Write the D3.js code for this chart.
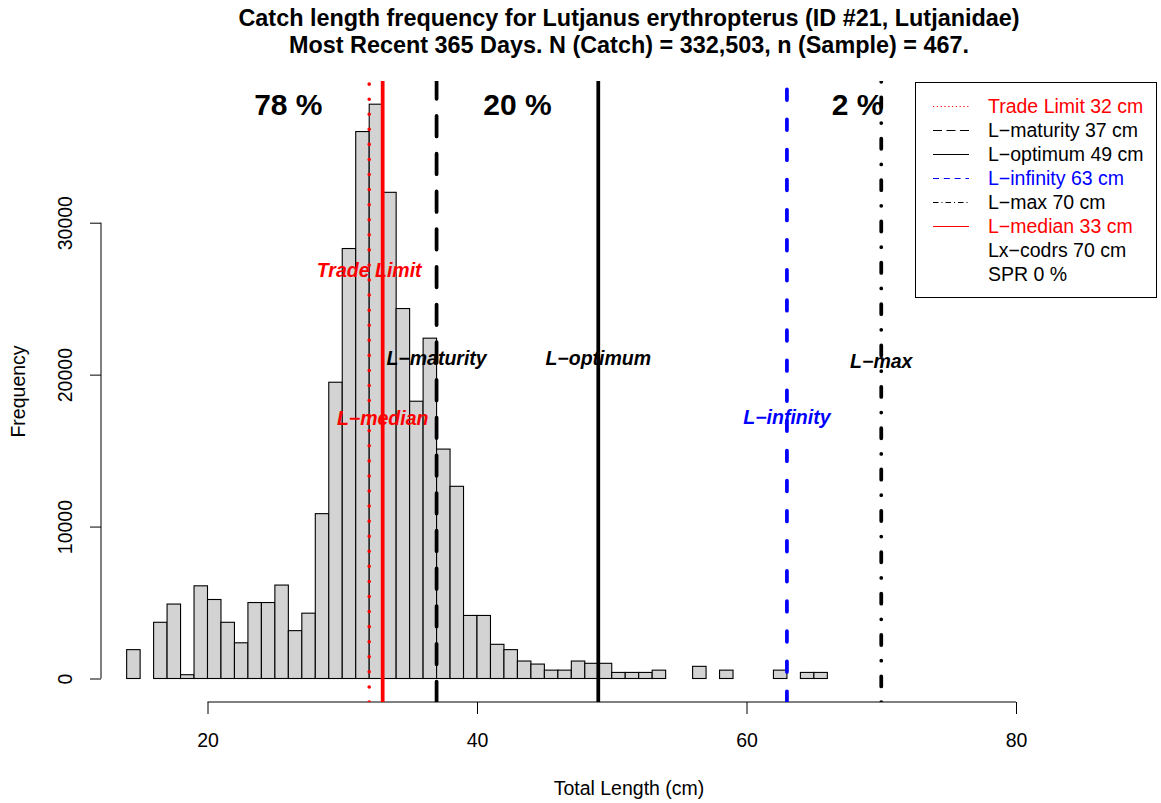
<!DOCTYPE html>
<html>
<head>
<meta charset="utf-8">
<script src="https://cdn.jsdelivr.net/npm/d3@7"></script>
<style>
  html, body { margin: 0; padding: 0; background: #fff; }
  svg text { font-family: "Liberation Sans", Arial, Helvetica, sans-serif; }
</style>
</head>
<body>
<svg id="chart" width="1161" height="803"></svg>
<script>
// ---------------- DATA ----------------
const binStarts = [14,15,16,17,18,19,20,21,22,23,24,25,26,27,28,29,30,31,32,33,34,35,36,37,38,39,40,41,42,43,44,45,
                   46,47,48,49,50,51,52,53,54,55,56,57,58,59,60,61,62,63,64,65,66,67,68,69,70,71,72,73,74,75];
const binWidth = 1;
const frequencies = [1900,0,3700,4900,250,6100,5200,3700,2350,5000,5000,6150,3150,4300,10850,19500,
                     28300,36000,37800,32000,24350,18250,22400,15100,12650,4150,4150,2250,1900,1150,950,550,
                     550,1150,1000,1000,400,400,400,550,0,0,800,0,550,0,0,0,550,0,400,400,
                     0,0,0,0,0,0,0,0,0,0];

const xTicks = [20, 40, 60, 80];
const yTicks = [0, 10000, 20000, 30000];

const refNames  = ["Trade Limit", "L\u2212maturity", "L\u2212optimum", "L\u2212infinity", "L\u2212max", "L\u2212median"];
const refValues = [32, 37, 49, 63, 70, 33];
const refLabelY = [26900, 21100, 21100, 17200, 20900, 17150];

const pctLabels = ["78 %", "20 %", "2 %"];
const pctX      = [26, 43, 68.25];
const pctY      = 37800;

const legendTexts = ["Trade Limit 32 cm", "L\u2212maturity 37 cm", "L\u2212optimum 49 cm", "L\u2212infinity 63 cm",
                     "L\u2212max 70 cm", "L\u2212median 33 cm", "Lx\u2212codrs 70 cm", "SPR 0 %"];

const titleLines = ["Catch length frequency for Lutjanus erythropterus (ID #21, Lutjanidae)",
                    "Most Recent 365 Days. N (Catch) = 332,503, n (Sample) = 467."];
const xLabel = "Total Length (cm)";
const yLabel = "Frequency";

// ---------------- STYLES / LAYOUT ----------------
const RED = "#FF0000", BLUE = "#0000FF", BLACK = "#000000";
const refColors = [RED, BLACK, BLACK, BLUE, BLACK, RED];
const refDash   = ["0,15.07", "20.5,17.2", null, "10.65,19.45", "0,15.6,10.15,15.6", null];
const refWidth  = [3.6, 3.75, 3.75, 3.75, 3.75, 3.75];
const legendColors = [RED, BLACK, BLACK, BLUE, BLACK, RED, null, null];
const legendDash   = ["1.2,2.6", "9,4.5", null, "6,4.8", "5.5,3,1,3", null, null, null];
const FONT = 19.5;
const TITLE_FONT = 23.4;

const plot = { left: 101, right: 1157, top: 81, bottom: 702 };

const svg = d3.select("#chart");
const x = d3.scaleLinear().domain([20, 80]).range([207.5, 1016]);
const y = d3.scaleLinear().domain([0, 30000]).range([678.5, 222.7]);

svg.append("defs").append("clipPath").attr("id", "plotclip")
  .append("rect").attr("x", plot.left).attr("y", plot.top)
  .attr("width", plot.right - plot.left).attr("height", plot.bottom - plot.top);

// ---------------- TITLE ----------------
svg.selectAll("text.title").data(titleLines).enter().append("text")
  .attr("class", "title")
  .attr("x", (plot.left + plot.right) / 2)
  .attr("y", (d, i) => 26 + i * 27)
  .attr("text-anchor", "middle")
  .attr("font-weight", "bold")
  .attr("font-size", TITLE_FONT)
  .text(d => d);

// ---------------- BARS ----------------
const bins = binStarts.map((b, i) => ({ x0: b, x1: b + binWidth, v: frequencies[i] }));
svg.append("g").selectAll("rect").data(bins).enter().append("rect")
  .attr("x", d => x(d.x0))
  .attr("width", d => x(d.x1) - x(d.x0))
  .attr("y", d => y(d.v))
  .attr("height", d => y(0) - y(d.v))
  .attr("fill", "#D3D3D3")
  .attr("stroke", "#000")
  .attr("stroke-width", 1.1);

// ---------------- AXES ----------------
const yAxis = d3.axisLeft(y).tickValues(yTicks).tickSize(11).tickFormat(d3.format("d"));
const gy = svg.append("g").attr("transform", `translate(${plot.left},0)`).call(yAxis);
gy.select(".domain").remove();
gy.append("line").attr("x1", 0).attr("x2", 0)
  .attr("y1", y(yTicks[0])).attr("y2", y(yTicks[yTicks.length - 1]))
  .attr("stroke", "#000");
gy.selectAll(".tick line").attr("stroke", "#000");
gy.selectAll(".tick text")
  .attr("x", null).attr("dy", null)
  .attr("transform", "translate(-29.5,0) rotate(-90)")
  .attr("text-anchor", "middle")
  .attr("font-size", FONT)
  .attr("fill", "#000")
  .attr("font-family", null);

const xAxis = d3.axisBottom(x).tickValues(xTicks).tickSize(12).tickFormat(d3.format("d"));
const gx = svg.append("g").attr("transform", `translate(0,${plot.bottom})`).call(xAxis);
gx.select(".domain").remove();
gx.append("line").attr("y1", 0).attr("y2", 0)
  .attr("x1", x(xTicks[0])).attr("x2", x(xTicks[xTicks.length - 1]))
  .attr("stroke", "#000");
gx.selectAll(".tick line").attr("stroke", "#000");
gx.selectAll(".tick text")
  .attr("y", 45).attr("dy", null)
  .attr("font-size", FONT)
  .attr("fill", "#000")
  .attr("font-family", null);

svg.append("text")
  .attr("x", (plot.left + plot.right) / 2).attr("y", 795)
  .attr("text-anchor", "middle").attr("font-size", FONT)
  .text(xLabel);
svg.append("text")
  .attr("transform", `translate(25,${(plot.top + plot.bottom) / 2}) rotate(-90)`)
  .attr("text-anchor", "middle").attr("font-size", FONT)
  .text(yLabel);

// ---------------- REFERENCE LINES ----------------
const gRef = svg.append("g").attr("clip-path", "url(#plotclip)");
refValues.forEach((v, i) => {
  gRef.append("line")
    .attr("x1", x(v)).attr("x2", x(v))
    .attr("y1", plot.bottom).attr("y2", plot.top)
    .attr("stroke", refColors[i])
    .attr("stroke-width", refWidth[i])
    .attr("stroke-linecap", refDash[i] ? "round" : "butt")
    .attr("stroke-dasharray", refDash[i]);
});

// percent labels
svg.selectAll("text.pct").data(pctLabels).enter().append("text")
  .attr("class", "pct")
  .attr("x", (d, i) => x(pctX[i]))
  .attr("y", y(pctY) + 10.5)
  .attr("text-anchor", "middle")
  .attr("font-weight", "bold")
  .attr("font-size", 30)
  .text(d => d);

// line labels
svg.selectAll("text.reflab").data(refNames).enter().append("text")
  .attr("class", "reflab")
  .attr("x", (d, i) => x(refValues[i]))
  .attr("y", (d, i) => y(refLabelY[i]) + 7)
  .attr("text-anchor", "middle")
  .attr("font-weight", "bold")
  .attr("font-style", "italic")
  .attr("font-size", FONT)
  .attr("fill", (d, i) => refColors[i])
  .text(d => d);

// ---------------- LEGEND ----------------
const lg = svg.append("g");
lg.append("rect")
  .attr("x", 915.5).attr("y", 82.5).attr("width", 241).attr("height", 215)
  .attr("fill", "#fff").attr("stroke", "#000").attr("stroke-width", 1);
legendTexts.forEach((t, i) => {
  const cy = 106 + i * 24;
  if (legendColors[i]) {
    lg.append("line")
      .attr("x1", 933).attr("x2", 969).attr("y1", cy + 0.5).attr("y2", cy + 0.5)
      .attr("stroke", legendColors[i]).attr("stroke-width", 1)
      .attr("stroke-dasharray", legendDash[i]);
  }
  lg.append("text")
    .attr("x", 988).attr("y", cy + 7)
    .attr("font-size", FONT)
    .attr("fill", legendColors[i] === RED ? RED : legendColors[i] === BLUE ? BLUE : BLACK)
    .text(t);
});
</script>
</body>
</html>
